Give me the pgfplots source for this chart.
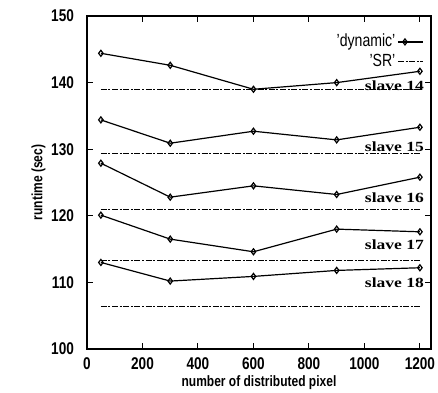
\documentclass[border=0pt]{standalone}
\usepackage{fontspec}
\setmainfont{Liberation Sans}[FakeStretch=0.8]
\newfontfamily\serifb{Liberation Serif}[FakeStretch=1.25]
\usepackage{pgfplots}
\pgfplotsset{compat=1.18}
\tikzset{srdash/.style={dash pattern=on 3pt off 0.8pt on 1pt off 0.8pt, line width=0.5pt}}
\begin{document}
\begin{tikzpicture}
\useasboundingbox (-43.5pt,-21.5pt) rectangle (175.5pt,174.5pt);
\begin{axis}[
  at={(0,0)}, anchor=south west,
  scale only axis, width=172pt, height=166.5pt,
  xmin=0, xmax=1240, ymin=100, ymax=150,
  xtick={0,200,...,1200}, ytick={100,110,...,150},
  tick align=inside, major tick length=3pt,
  tick style={black, line width=0.5pt},
  axis line style={line width=0.7pt},
  /pgf/number format/assume math mode=true,
  /pgf/number format/1000 sep={},
  tick label style={font=\bfseries\fontsize{8.5}{9}\selectfont},
  xticklabel style={yshift=-1pt},
  yticklabel style={xshift=-3pt},
  xlabel={number of distributed pixel},
  ylabel={runtime (sec)},
  label style={font=\bfseries\fontsize{7.5}{8}\selectfont},
  xlabel style={yshift=4pt},
  ylabel style={yshift=-4pt},
  legend style={draw=none, fill=none, at={(0.997,0.965)}, anchor=north east,
    font=\fontsize{8.8}{9}\selectfont, row sep=0pt, nodes={inner sep=1pt}},
  legend cell align=right,
  legend plot pos=right,
  legend image code/.code={\draw[#1] (0pt,0pt) -- (12.5pt,0pt);
    \draw[#1, only marks] plot coordinates {(3.5pt,0pt)};},
  every axis plot/.append style={line width=0.6pt},
]
% dynamic series
\addplot[black, mark=diamond, mark size=1.5pt, mark options={solid}] coordinates {(50,144.4) (300,142.6) (600,139.0) (900,140.0) (1200,141.7)};
\addlegendentry{'dynamic'}
\addplot[black, srdash] coordinates {(50,138.9) (1200,138.9)};
\addlegendentry{'SR'}

\addplot[black, mark=diamond, mark size=1.5pt] coordinates {(50,134.4) (300,130.9) (600,132.7) (900,131.4) (1200,133.3)};
\addplot[black, srdash] coordinates {(50,129.4) (1200,129.4)};

\addplot[black, mark=diamond, mark size=1.5pt] coordinates {(50,127.9) (300,122.8) (600,124.5) (900,123.2) (1200,125.8)};
\addplot[black, srdash] coordinates {(50,121.0) (1200,121.0)};

\addplot[black, mark=diamond, mark size=1.5pt] coordinates {(50,120.1) (300,116.5) (600,114.6) (900,118.0) (1200,117.6)};
\addplot[black, srdash] coordinates {(50,113.3) (1200,113.3)};

\addplot[black, mark=diamond, mark size=1.5pt] coordinates {(50,113.0) (300,110.2) (600,110.9) (900,111.8) (1200,112.2)};
\addplot[black, srdash] coordinates {(50,106.4) (1200,106.4)};

\begin{scope}[every node/.style={font=\serifb\bfseries\fontsize{7}{8}\selectfont, inner sep=0pt, anchor=base}]
\node at (axis cs:1108,138.8) {slave 14};
\node at (axis cs:1108,129.7) {slave 15};
\node at (axis cs:1108,122.0) {slave 16};
\node at (axis cs:1108,114.9) {slave 17};
\node at (axis cs:1108,109.3) {slave 18};
\end{scope}
\end{axis}
\end{tikzpicture}
\end{document}
